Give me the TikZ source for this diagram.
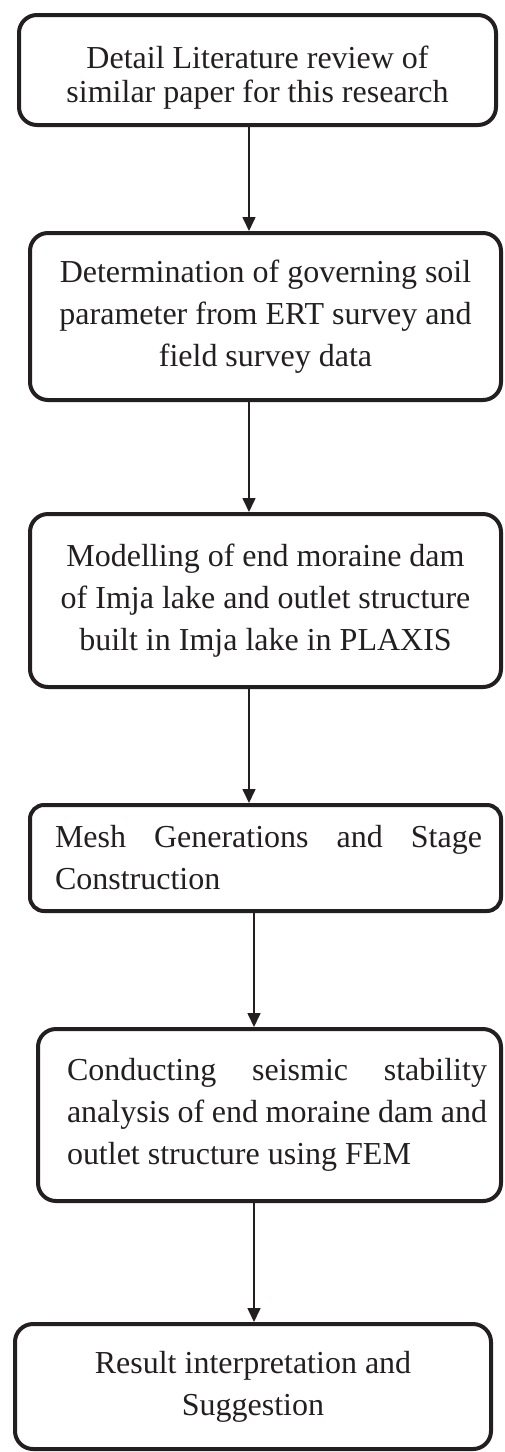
\documentclass[tikz,border=0pt]{standalone}
\usepackage{fontspec}
\setmainfont{Liberation Serif}
\usetikzlibrary{
  arrows.meta,
  positioning,  % below=of
}
\definecolor{ink}{RGB}{35,31,32}
\def\myboxwd{471pt}
\def\mylw{4pt}
\tikzset{
  >={Triangle[length=14pt,width=13pt]},
  my step/.style={
    draw=ink,
    text=ink,
    line width=\mylw,
    rounded corners=18pt,
    rectangle,
    inner sep=0pt,
    minimum width=\myboxwd,
    align=center,
    font=\fontsize{32}{42}\selectfont
  },
  my step just/.style={
    my step,
    align=justify
  },
  my flow/.style={
    ->,
    draw=ink,
    line width=1.6pt
  }
}
\begin{document}
\begin{tikzpicture}[x=1pt,y=1pt]
\useasboundingbox (0,0) rectangle (505,-1452);
\coordinate (lineA) at (249,0);
\coordinate (lineB) at (254,0);
\node[my step, minimum width=477pt, minimum height=110pt,
      font=\fontsize{32}{34}\selectfont] (review) at (257.5,-70)
  {\rule{0pt}{37pt}Detail Literature review of\\similar paper for this research};
\node[my step, minimum height=167pt] (params) [below=104pt of review, xshift=8pt]
  {Determination of governing soil\\parameter from ERT survey and\\field survey data};
\node[my step, minimum height=173pt] (model) [below=110pt of params]
  {Modelling of end moraine dam\\of Imja lake and outlet structure\\built in Imja lake in PLAXIS};
\node[my step just, text width=433pt, minimum height=106pt,
      rounded corners=14pt] (mesh) [below=114pt of model]
  {\leftskip=6pt Mesh Generations and Stage\linebreak Construction\par};
\node[my step just, text width=435pt, minimum width=463pt,
      minimum height=172pt] (fem) [below=114pt of mesh, xshift=4pt]
  {\leftskip=15pt Conducting seismic stability\linebreak analysis of end moraine dam and\linebreak outlet structure using FEM\par};
\node[my step, minimum width=476pt, minimum height=125pt] (result)
  [below=119pt of fem, xshift=-16.5pt]
  {Result interpretation and\\Suggestion};
% connectors
\draw[my flow] (review.south -| lineA) -- (params.north -| lineA);
\draw[my flow] (params.south -| lineA) -- (model.north -| lineA);
\draw[my flow] (model.south -| lineA) -- (mesh.north -| lineA);
\draw[my flow] (mesh.south -| lineB) -- (fem.north -| lineB);
\draw[my flow] (fem.south -| lineB) -- (result.north -| lineB);
\end{tikzpicture}
\end{document}
